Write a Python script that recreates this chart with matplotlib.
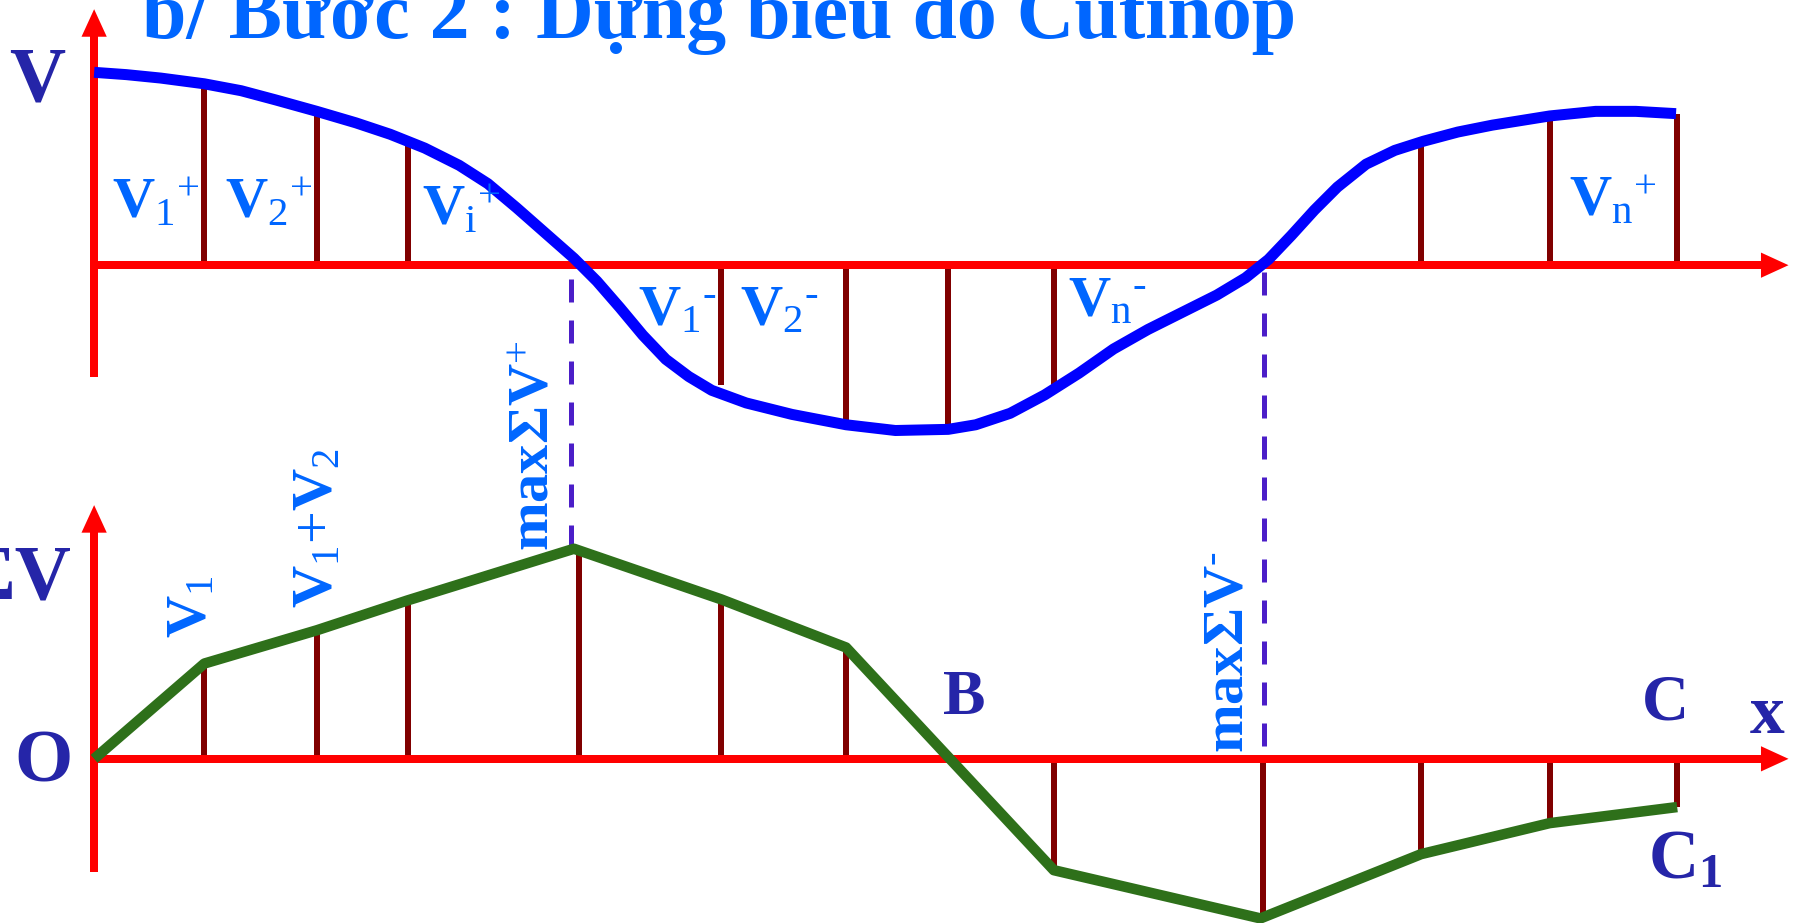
import matplotlib
matplotlib.use("Agg")
import matplotlib.pyplot as plt
from matplotlib.patches import Polygon

plt.rcParams['mathtext.fontset'] = 'custom'
plt.rcParams['mathtext.rm'] = 'Liberation Serif'
plt.rcParams['mathtext.bf'] = 'Liberation Serif:bold'
plt.rcParams['mathtext.it'] = 'Liberation Serif:italic'

# ---------------- data (x measured from the origin, values up from each axis) -------------
curve_x = [0, 28, 58, 96, 128, 158, 194, 228, 258, 288, 318, 343, 368, 393, 418, 438,
           458, 478, 498, 518, 538, 568, 608, 655, 698, 744, 768, 798, 828, 858, 888,
           918, 948, 978, 1003, 1023, 1043, 1063, 1083, 1108, 1133, 1158, 1188, 1218,
           1268, 1308, 1343, 1378]
curve_v = [168, 166, 163, 158, 152, 144, 134, 124, 114, 102, 87, 71, 50, 28, 6, -14,
           -37, -61, -82, -97, -109, -120, -130, -139, -144, -143, -139, -129, -113,
           -94, -73, -56, -41, -26, -11, 5, 26, 48, 68, 88, 100, 108, 116, 122, 130,
           134, 134, 132]

stem_top_x = [96, 194, 273, 546, 655, 744, 836, 1156, 1268, 1379]
stem_top_v = [158, 131, 108, -104, -136, -141, -104, 106, 128, 132]

sum_x = [0, 96, 194, 273, 418, 546, 655, 836, 1016, 1156, 1268, 1379]
sum_v = [0, 83, 112, 138, 183, 139, 97, -97, -139, -83, -56, -42]

stem_bot_x = [96, 194, 273, 422, 546, 655, 836, 1018, 1156, 1268, 1379]
stem_bot_v = [83, 112, 138, 181, 139, 97, -97, -139, -83, -56, -42]

max_plus_x = 415
max_minus_x = 1019

title = "b/ Bước 2 : Dựng biểu đồ Cutinop"

# ---------------- colours ----------------
RED = '#FF0000'
BLUE = '#0000FF'
GREEN = '#2E701A'
STEM = '#800000'
DASH = '#4B1EC8'
LBLUE = '#0066FF'
DBLUE = '#2525A8'

fig = plt.figure(figsize=(18, 9.23), dpi=100)
axT = fig.add_axes([0, 0, 1, 1])
axT.set_xlim(-82, 1486)
axT.set_ylim(-573, 231)
axT.axis('off')
axB = fig.add_axes([0, 0, 1, 1])
axB.set_xlim(-82, 1486)
axB.set_ylim(-143, 661)
axB.axis('off')
axB.patch.set_alpha(0)

PT = 0.72  # points per full-size pixel

def axes_lines(ax, ybot, ytip):
    ax.plot([0, 0], [ybot, ytip - 22], color=RED, lw=8 * PT, solid_capstyle='butt', zorder=2)
    ax.add_patch(Polygon([[-11, ytip - 24], [11, ytip - 24], [0, ytip]], closed=True,
                         color=RED, lw=0, zorder=2))
    ax.plot([-3, 1455], [0, 0], color=RED, lw=8 * PT, solid_capstyle='butt', zorder=2)
    ax.add_patch(Polygon([[1452, 11], [1452, -11], [1476, 0]], closed=True,
                         color=RED, lw=0, zorder=2))

axes_lines(axT, -97, 223)
axes_lines(axB, -99, 221)

# top diagram
for x, v in zip(stem_top_x, stem_top_v):
    axT.plot([x, x], [0, v], color=STEM, lw=6 * PT, solid_capstyle='butt', zorder=1)
axT.plot(curve_x, curve_v, color=BLUE, lw=11 * PT, solid_joinstyle='round',
         solid_capstyle='butt', zorder=3)

# dashed lines
DLW = 5 * PT
axT.plot([max_plus_x, max_plus_x], [-12, -244], color=DASH, lw=DLW,
         dashes=(23 * PT / DLW, 18 * PT / DLW), zorder=1)
axT.plot([max_minus_x, max_minus_x], [-6, -430], color=DASH, lw=DLW,
         dashes=(23 * PT / DLW, 18 * PT / DLW), zorder=1)

# bottom diagram
for x, v in zip(stem_bot_x, stem_bot_v):
    axB.plot([x, x], [0, v], color=STEM, lw=6 * PT, solid_capstyle='butt', zorder=1)
axB.plot(sum_x, sum_v, color=GREEN, lw=10.5 * PT, solid_joinstyle='round',
         solid_capstyle='butt', zorder=3)

# ---------------- texts ----------------
serif = 'Liberation Serif'
fig.text(626.5 / 1568, 1 - 33 / 804, title, ha='center', va='baseline', fontsize=57.5,
         family=serif, weight='bold', color=LBLUE)

def T(ax, x, y, s, size, color, **kw):
    ax.text(x, y, s, fontsize=size, family=serif, weight='bold', color=color, **kw)

T(axT, -50, 231 - 71, 'V', 56, DBLUE, ha='center', va='center')
T(axB, -20, 661 - 505, r'ΣV', 56, DBLUE, ha='right', va='center')
T(axB, -44, 661 - 665, 'O', 54, DBLUE, ha='center', va='center')
T(axB, 758, 661 - 609, 'B', 46, DBLUE, ha='center', va='center')
T(axB, 1369, 661 - 613, 'C', 47, DBLUE, ha='center', va='center')
T(axB, 1457, 661 - 624, 'x', 50, DBLUE, ha='center', va='center')
T(axB, 1386, 661 - 750, r'$\mathbf{C}_{\mathbf{1}}$', 50, DBLUE, ha='center', va='center')

LS = 42

def lab(sub, sup):
    return r'$\mathbf{V}_{\mathrm{%s}}{}^{\mathrm{%s}}$' % (sub, sup)

def labm(sub):
    return r'$\mathbf{V}_{\mathrm{%s}}{}^{\text{-}}$' % sub

T(axT, 16, 231 - 190, lab('1', '+'), LS, LBLUE, ha='left', va='baseline')
T(axT, 114, 231 - 190, lab('2', '+'), LS, LBLUE, ha='left', va='baseline')
T(axT, 286, 231 - 196, lab('i', '+'), LS, LBLUE, ha='left', va='baseline')
T(axT, 474, 231 - 283, labm('1'), LS, LBLUE, ha='left', va='baseline')
T(axT, 563, 231 - 283, labm('2'), LS, LBLUE, ha='left', va='baseline')
T(axT, 848, 231 - 275, labm('n'), LS, LBLUE, ha='left', va='baseline')
T(axT, 1285, 231 - 188, lab('n', '+'), LS, LBLUE, ha='left', va='baseline')

rot = dict(rotation=90, rotation_mode='anchor', ha='left', va='baseline')
T(axB, 98, 661 - 556, r'$\mathbf{V}_{\mathrm{1}}$', LS, LBLUE, **rot)
T(axB, 207, 661 - 530, r'$\mathbf{V}_{\mathrm{1}}\mathrm{+}\mathbf{V}_{\mathrm{2}}$', LS, LBLUE, **rot)
T(axB, 396, 661 - 480, r'$\mathbf{max\Sigma V}^{\mathrm{+}}$', LS, LBLUE, **rot)
T(axB, 1000, 661 - 656, r'$\mathbf{max\Sigma V}^{\text{-}}$', LS, LBLUE, **rot)

fig.savefig('out.png', dpi=100)
